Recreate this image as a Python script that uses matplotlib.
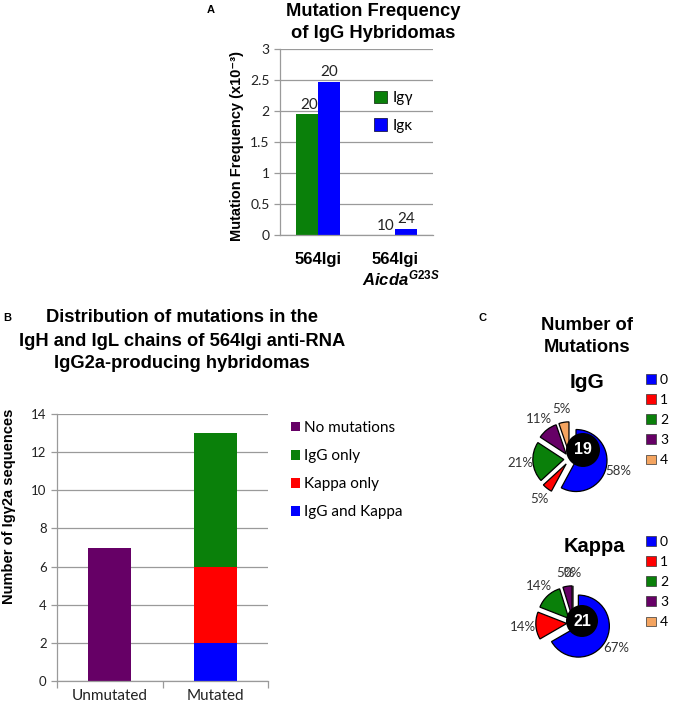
import matplotlib
matplotlib.use("Agg")
import matplotlib.pyplot as plt
from matplotlib.patches import Patch, Circle

plt.rcParams['font.family'] = ['Lato', 'DejaVu Sans']
plt.rcParams['mathtext.fontset'] = 'custom'
plt.rcParams['mathtext.it'] = 'Liberation Sans:italic:bold'
plt.rcParams['mathtext.rm'] = 'Liberation Sans:bold'
plt.rcParams['mathtext.bf'] = 'Liberation Sans:bold'

# ---------------- data ----------------
# Panel A
a_groups = ["564Igi", "564Igi"]
a_igg = [1.95, 0.0]
a_igk = [2.47, 0.10]
a_igg_n = ["20", "10"]
a_igk_n = ["20", "24"]
a_yticks = [0, 0.5, 1, 1.5, 2, 2.5, 3]
a_ytick_labels = ["0", "0.5", "1", "1.5", "2", "2.5", "3"]

# Panel B
b_categories = ["Unmutated", "Mutated"]
b_no_mut = [7, 0]
b_igg_kappa = [0, 2]
b_kappa_only = [0, 4]
b_igg_only = [0, 7]
b_yticks = [0, 2, 4, 6, 8, 10, 12, 14]

# Panel C
c_classes = ["0", "1", "2", "3", "4"]
c_igg_counts = [11, 1, 4, 2, 1]
c_kappa_counts = [14, 3, 3, 1, 0]
c_igg_total = "19"
c_kappa_total = "21"

GREEN = "#0a800a"
BLUE = "#0000ff"
RED = "#ff0000"
PURPLE = "#660066"
ORANGE = "#f4a460"
GRID = "#9a9a9a"
TITLE_FONT = ['Liberation Sans', 'DejaVu Sans']
TS = 13.2

W, H = 675, 708
fig = plt.figure(figsize=(W / 100, H / 100), dpi=100)


def rect(l, t, r, b):
    return [l / W, 1 - b / H, (r - l) / W, (b - t) / H]


def ftext(x, y, s, **kw):
    kw.setdefault('ha', 'center')
    kw.setdefault('va', 'center')
    return fig.text(x / W, 1 - y / H, s, **kw)


def style_axes(ax):
    for s in ['top', 'right']:
        ax.spines[s].set_visible(False)
    for s in ['left', 'bottom']:
        ax.spines[s].set_color(GRID)
        ax.spines[s].set_linewidth(0.9)
    ax.yaxis.grid(True, color=GRID, linewidth=0.9)
    ax.set_axisbelow(True)
    ax.tick_params(axis='y', colors=GRID, length=4, width=0.9, labelcolor='#222222')


# ---------------- Panel A ----------------
axA = fig.add_axes(rect(280, 49, 433, 235))
style_axes(axA)
xA = list(range(len(a_groups)))
bw = 0.29
bg = axA.bar([x - bw / 2 for x in xA], a_igg, width=bw, color=GREEN, label="Igγ")
bk = axA.bar([x + bw / 2 for x in xA], a_igk, width=bw, color=BLUE, label="Igκ")
for rectg, n in zip(bg, a_igg_n):
    axA.text(rectg.get_x() + rectg.get_width() / 2 + 0.03, rectg.get_height() + 0.04, n,
             ha='center', va='bottom', fontsize=11, color='#222222')
for rectk, n in zip(bk, a_igk_n):
    axA.text(rectk.get_x() + rectk.get_width() / 2, rectk.get_height() + 0.04, n,
             ha='center', va='bottom', fontsize=11, color='#222222')
axA.set_xlim(-0.5, 1.5)
axA.set_ylim(0, 3)
axA.set_yticks(a_yticks)
axA.set_yticklabels(a_ytick_labels, fontsize=10)
axA.set_xticks(xA)
axA.set_xticklabels(a_groups, fontsize=12, fontweight='bold', family=TITLE_FONT)
axA.tick_params(axis='x', length=0, pad=12)
axA.set_ylabel("Mutation Frequency (x10⁻³)", fontsize=10.5, fontweight='bold',
               family=TITLE_FONT)
axA.yaxis.set_label_coords(-0.235, 0.48)
axA.text(1.08, (235 - 278) / 186, r"$\mathit{Aicda}^{\mathit{G23S}}$",
         transform=axA.get_xaxis_transform(), ha='center', va='center', fontsize=12)
axA.legend(handles=[Patch(facecolor=GREEN, edgecolor='#1a3a1a', linewidth=0.6, label="Igγ"),
                    Patch(facecolor=BLUE, edgecolor='#1a1a4a', linewidth=0.6, label="Igκ")],
           loc='upper left', bbox_to_anchor=(374 / W, 1 - 91 / H), bbox_transform=fig.transFigure,
           frameon=False, fontsize=11, handlelength=0.85, handleheight=0.85,
           handletextpad=0.4, labelspacing=0.85, borderaxespad=0, borderpad=0)

ftext(211, 10, "A", fontsize=8, fontweight='bold', family=TITLE_FONT)
ftext(373, 11, "Mutation Frequency", fontsize=TS, fontweight='bold', family=TITLE_FONT)
ftext(373, 33, "of IgG Hybridomas", fontsize=TS, fontweight='bold', family=TITLE_FONT)

# ---------------- Panel B ----------------
axB = fig.add_axes(rect(57, 414, 268, 681))
style_axes(axB)
xB = list(range(len(b_categories)))
bwb = 0.41
axB.bar(xB, b_no_mut, width=bwb, color=PURPLE, label="No mutations")
axB.bar(xB, b_igg_kappa, width=bwb, color=BLUE, label="IgG and Kappa")
bottom1 = [a + b for a, b in zip(b_no_mut, b_igg_kappa)]
axB.bar(xB, b_kappa_only, width=bwb, bottom=bottom1, color=RED, label="Kappa only")
bottom2 = [a + b for a, b in zip(bottom1, b_kappa_only)]
axB.bar(xB, b_igg_only, width=bwb, bottom=bottom2, color=GREEN, label="IgG only")
axB.set_xlim(-0.5, 1.5)
axB.set_ylim(0, 14)
axB.set_yticks(b_yticks)
axB.set_yticklabels([str(v) for v in b_yticks], fontsize=9.5)
axB.set_xticks([-0.5, 0.5, 1.5])
axB.set_xticklabels([])
axB.set_xticks(xB, minor=True)
axB.set_xticklabels(b_categories, minor=True, fontsize=11, color='#222222')
axB.tick_params(axis='x', which='major', length=5, colors=GRID, width=0.9)
axB.tick_params(axis='x', which='minor', length=0, pad=6)
axB.set_ylabel("Number of Igγ2a sequences", fontsize=10.5, fontweight='bold',
               family=TITLE_FONT)
axB.yaxis.set_label_coords(-0.195, 0.655)
axB.legend(handles=[Patch(facecolor=PURPLE, label="No mutations"),
                    Patch(facecolor=GREEN, label="IgG only"),
                    Patch(facecolor=RED, label="Kappa only"),
                    Patch(facecolor=BLUE, label="IgG and Kappa")],
           loc='upper left', bbox_to_anchor=(291 / W, 1 - 421 / H), bbox_transform=fig.transFigure,
           frameon=False, fontsize=11, handlelength=0.6, handleheight=0.6,
           handletextpad=0.25, labelspacing=0.92, borderaxespad=0, borderpad=0)

ftext(7, 318, "B", fontsize=8, fontweight='bold', family=TITLE_FONT)
ftext(182, 318, "Distribution of mutations in the", fontsize=TS, fontweight='bold', family=TITLE_FONT)
ftext(182, 341, "IgH and IgL chains of 564Igi anti-RNA", fontsize=TS, fontweight='bold', family=TITLE_FONT)
ftext(182, 363, "IgG2a-producing hybridomas", fontsize=TS, fontweight='bold', family=TITLE_FONT)

# ---------------- Panel C ----------------
pie_colors = [BLUE, RED, GREEN, PURPLE, ORANGE]
PX = 31.0  # pixels per pie unit


def draw_pie(cx, cy, counts, total, legend_top, hole_dx, hole_dy, hole_r):
    size = 140
    ax = fig.add_axes(rect(cx - size / 2, cy - size / 2, cx + size / 2, cy + size / 2))
    wedges, texts, autotexts = ax.pie(
        counts, colors=pie_colors, startangle=90, counterclock=False,
        explode=[0.2] * len(counts), autopct='%.0f%%', pctdistance=1.42,
        wedgeprops=dict(edgecolor='black', linewidth=0.9),
        textprops=dict(fontsize=9.5, color='#333333'))
    hx, hy = hole_dx / PX, -hole_dy / PX
    ax.add_patch(Circle((hx, hy), hole_r / PX, facecolor='black', edgecolor='none', zorder=5))
    ax.text(hx, hy, total, ha='center', va='center', color='white', fontsize=11.5,
            fontweight='bold', family=TITLE_FONT, zorder=6)
    lim = size / 2 / PX
    ax.set_xlim(-lim, lim)
    ax.set_ylim(-lim, lim)
    ax.set_aspect('equal')
    ax.axis('off')
    handles = [Patch(facecolor=c, edgecolor='#333333', linewidth=0.5, label=l)
               for c, l in zip(pie_colors, c_classes)]
    ax.legend(handles=handles, loc='upper left', bbox_to_anchor=(646 / W, 1 - legend_top / H),
              bbox_transform=fig.transFigure, frameon=False, fontsize=10,
              handlelength=0.7, handleheight=0.7, handletextpad=0.3,
              labelspacing=0.58, borderaxespad=0, borderpad=0)
    return ax


draw_pie(570, 459, c_igg_counts, c_igg_total, 374, 13, -9, 17)
draw_pie(573, 623, c_kappa_counts, c_kappa_total, 536, 9, -2, 16)

ftext(483, 318, "C", fontsize=8, fontweight='bold', family=TITLE_FONT)
ftext(587, 326, "Number of", fontsize=TS, fontweight='bold', family=TITLE_FONT)
ftext(587, 348, "Mutations", fontsize=TS, fontweight='bold', family=TITLE_FONT)
ftext(587, 382, "IgG", fontsize=15, fontweight='bold', family=TITLE_FONT)
ftext(594, 546, "Kappa", fontsize=14.5, fontweight='bold', family=TITLE_FONT)

fig.savefig("out.png", dpi=100)
